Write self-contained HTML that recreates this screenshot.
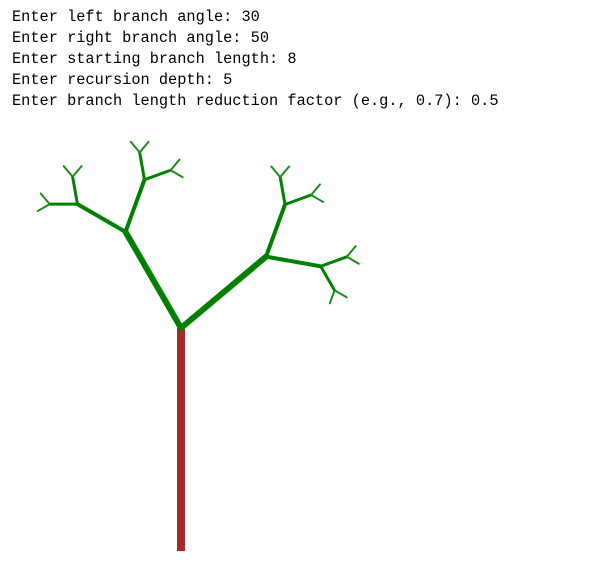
<!DOCTYPE html>
<html><head><meta charset="utf-8"><style>
html,body{margin:0;padding:0;background:#fff;width:601px;height:585px;overflow:hidden}
pre{position:absolute;left:12px;top:7px;margin:0;font-family:"Liberation Mono",monospace;font-size:15.3px;line-height:21px;color:#000}
svg{position:absolute;left:0;top:0}
</style></head><body>
<pre>Enter left branch angle: 30
Enter right branch angle: 50
Enter starting branch length: 8
Enter recursion depth: 5
Enter branch length reduction factor (e.g., 0.7): 0.5</pre>
<svg id="s" width="601" height="585" xmlns="http://www.w3.org/2000/svg">
<line x1="181" y1="551" x2="181" y2="328" stroke="#a52a2a" stroke-width="8"/>
</svg>
<script>
var s=document.getElementById('s');var W={1:6,2:4,3:3,4:2};
function br(x,y,h,len,lv){if(lv>4)return;var r=h*Math.PI/180;var nx=x+len*Math.sin(r),ny=y-len*Math.cos(r);
var l=document.createElementNS('http://www.w3.org/2000/svg','line');
l.setAttribute('x1',x);l.setAttribute('y1',y);l.setAttribute('x2',nx);l.setAttribute('y2',ny);
l.setAttribute('stroke',lv==4?'#1a8c1a':'#008000');l.setAttribute('stroke-width',W[lv]);l.setAttribute('stroke-linecap','round');
s.appendChild(l);br(nx,ny,h-30,len/2,lv+1);br(nx,ny,h+50,len/2,lv+1);}
br(181,328,-30,111,1);br(181,328,50,111,1);
</script>
</body></html>
